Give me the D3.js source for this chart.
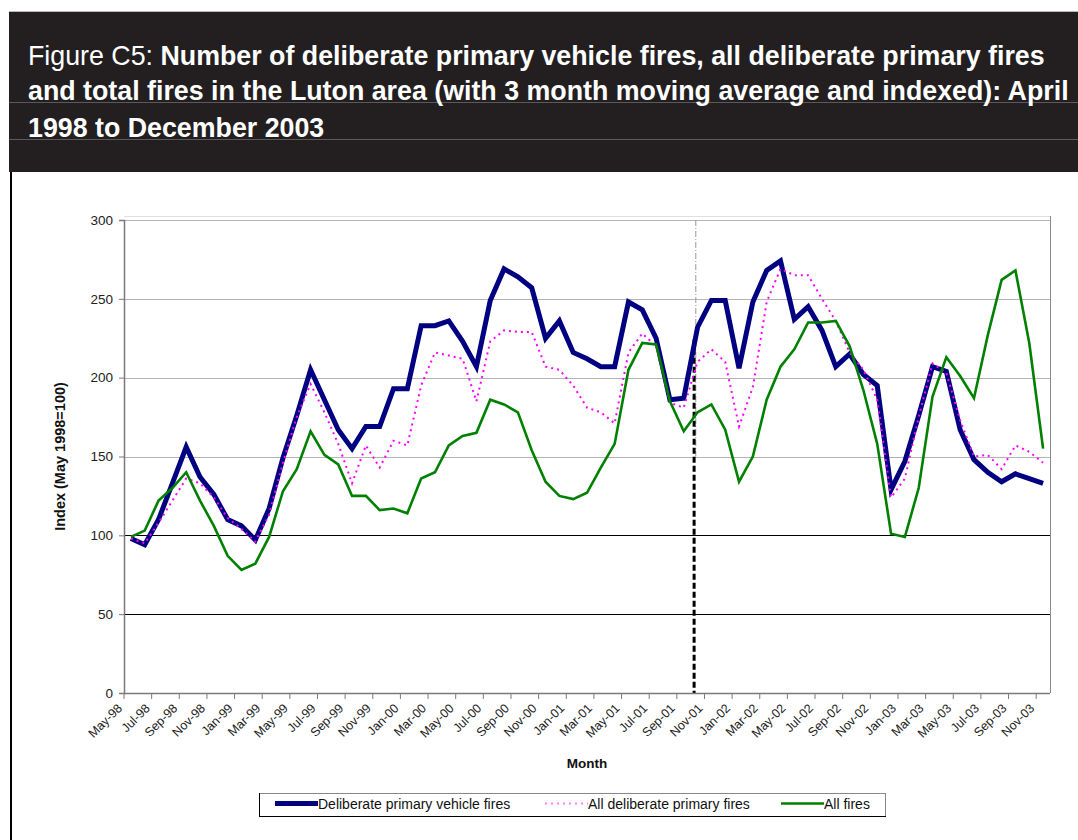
<!DOCTYPE html>
<html>
<head>
<meta charset="utf-8">
<script src="https://cdn.jsdelivr.net/npm/d3@7"></script>
<style>
  html, body { margin: 0; padding: 0; background: #fff; }
  svg { display: block; font-family: "Liberation Sans", Arial, Helvetica, sans-serif; }
</style>
</head>
<body>
<svg id="chart" width="1078" height="840"></svg>
<script>
// ---------------- DATA ----------------
const months = [
  "May-98","Jun-98","Jul-98","Aug-98","Sep-98","Oct-98","Nov-98","Dec-98",
  "Jan-99","Feb-99","Mar-99","Apr-99","May-99","Jun-99","Jul-99","Aug-99","Sep-99","Oct-99","Nov-99","Dec-99",
  "Jan-00","Feb-00","Mar-00","Apr-00","May-00","Jun-00","Jul-00","Aug-00","Sep-00","Oct-00","Nov-00","Dec-00",
  "Jan-01","Feb-01","Mar-01","Apr-01","May-01","Jun-01","Jul-01","Aug-01","Sep-01","Oct-01","Nov-01","Dec-01",
  "Jan-02","Feb-02","Mar-02","Apr-02","May-02","Jun-02","Jul-02","Aug-02","Sep-02","Oct-02","Nov-02","Dec-02",
  "Jan-03","Feb-03","Mar-03","Apr-03","May-03","Jun-03","Jul-03","Aug-03","Sep-03","Oct-03","Nov-03"
];

const vehicleFires = [
  98, 94, 110, 133, 156, 137, 126, 110,
  106, 97, 117, 149, 176, 205, 186, 167, 155, 169, 169, 193,
  193, 233, 233, 236, 223, 207, 249, 269, 264, 257, 225, 236,
  216, 212, 207, 207, 248, 243, 225, 186, 187, 232, 249, 249,
  206, 248, 268, 274, 237, 245, 230, 207, 215, 202, 195, 129,
  147, 176, 207, 204, 167, 148, 140, 134, 139, 136, 133
];

const deliberateFires = [
  98, 95, 108, 122, 136, 133, 124, 111,
  104, 96, 113, 146, 175, 196, 178, 158, 133, 157, 143, 160,
  157, 195, 216, 214, 212, 185, 223, 230, 229, 229, 207, 205,
  195, 181, 178, 171, 216, 228, 220, 184, 181, 210, 218, 210,
  169, 194, 248, 269, 265, 265, 250, 236, 216, 205, 186, 124,
  136, 175, 209, 203, 173, 150, 151, 142, 157, 153, 146
];

const allFires = [
  99, 103, 122, 130, 140, 122, 106, 87,
  78, 82, 99, 128, 142, 166, 151, 145, 125, 125, 116, 117,
  114, 136, 140, 157, 163, 165, 186, 183, 178, 154, 134, 125,
  123, 127, 143, 158, 205, 222, 221, 185, 166, 178, 183, 167,
  134, 150, 186, 207, 218, 235, 235, 236, 220, 192, 158, 101,
  99, 130, 188, 213, 201, 187, 227, 262, 268, 222, 155
];

const seriesNames = ["Deliberate primary vehicle fires", "All deliberate primary fires", "All fires"];
const yTicks = [0, 50, 100, 150, 200, 250, 300];
const blackGridValues = [50, 100];
const markerMonth = "Oct-01";
const titleLines = [
  [{t: "Figure C5: ", b: false}, {t: "Number of deliberate primary vehicle fires, all deliberate primary fires", b: true}],
  [{t: "and total fires in the Luton area (with 3 month moving average and indexed): April", b: true}],
  [{t: "1998 to December 2003", b: true}]
];
const yTitle = "Index (May 1998=100)";
const xTitle = "Month";

// ---------------- LAYOUT ----------------
const svg = d3.select("#chart");
const W = 1078, H = 840;
const plot = {left: 124, right: 1050, top: 220, bottom: 693};

// Title block
svg.append("rect").attr("x", 9).attr("y", 12).attr("width", W - 9).attr("height", 160).attr("fill", "#231f20");
svg.append("line").attr("x1", 9).attr("x2", W).attr("y1", 11.5).attr("y2", 11.5).attr("stroke", "#bbb");
[102.5, 139.5].forEach(yy => {
  svg.append("line").attr("x1", 9).attr("x2", W).attr("y1", yy).attr("y2", yy).attr("stroke", "#5a5a5a").attr("stroke-width", 1);
});
const titleBaselines = [65, 100, 137];
const titleG = svg.append("g");
const tLines = titleLines.map((parts, li) => {
  const t = titleG.append("text").attr("x", 28).attr("y", titleBaselines[li]).attr("fill", "#fff").attr("font-size", 21);
  parts.forEach(p => t.append("tspan").attr("font-weight", p.b ? "bold" : "normal").text(p.t));
  return t;
});
// fit font size so that first line spans the measured width
const w1 = tLines[0].node().getComputedTextLength();
const fs = 21 * (1017 / w1);
tLines.forEach(t => t.attr("font-size", fs));

// left border of frame
svg.append("line").attr("x1", 11).attr("x2", 11).attr("y1", 172).attr("y2", H).attr("stroke", "#000").attr("stroke-width", 2);

// Scales
const x = d3.scaleBand().domain(months).range([plot.left, plot.right]).padding(0);
const cx = m => x(m) + x.bandwidth() / 2;
const y = d3.scaleLinear().domain([0, 300]).range([plot.bottom, plot.top]);

// Gridlines
const grid = svg.append("g");
grid.append("line").attr("x1", plot.left).attr("x2", plot.right).attr("y1", y(300) - 3.5).attr("y2", y(300) - 3.5).attr("stroke", "#e0e0e0");
yTicks.filter(v => v > 0).forEach(v => {
  grid.append("line")
    .attr("x1", plot.left).attr("x2", plot.right)
    .attr("y1", Math.round(y(v)) + 0.5).attr("y2", Math.round(y(v)) + 0.5)
    .attr("stroke", blackGridValues.includes(v) ? "#000" : "#b4b4b4")
    .attr("stroke-width", 1);
});
// right border
grid.append("line").attr("x1", plot.right + 0.5).attr("x2", plot.right + 0.5).attr("y1", y(300) - 4).attr("y2", plot.bottom).attr("stroke", "#8a8a8a");

// Marker lines (vertical, dashed)
const markerX = x(markerMonth) + x.bandwidth() * 0.25;
svg.append("line").attr("x1", markerX + 1.7).attr("x2", markerX + 1.7)
  .attr("y1", y(300)).attr("y2", y(150))
  .attr("stroke", "#999").attr("stroke-width", 1).attr("stroke-dasharray", "6,2,1,2");
svg.append("line").attr("x1", markerX).attr("x2", markerX)
  .attr("y1", y(224)).attr("y2", y(0))
  .attr("stroke", "#000").attr("stroke-width", 3).attr("stroke-dasharray", "6,3");

// Y axis
const yAxis = svg.append("g").attr("transform", `translate(${plot.left},0)`)
  .call(d3.axisLeft(y).tickValues(yTicks).tickSize(5).tickPadding(6).tickFormat(d3.format("d")));
yAxis.attr("font-size", null).attr("font-family", null);
yAxis.select(".domain").attr("stroke", "#7a7a7a").attr("stroke-width", 1.5);
yAxis.selectAll(".tick line").attr("stroke", "#7a7a7a");
yAxis.selectAll(".tick text").attr("font-size", 13.5).attr("fill", "#222");

// X axis
const xg = svg.append("g");
xg.append("line").attr("x1", plot.left).attr("x2", plot.right).attr("y1", plot.bottom + 0.5).attr("y2", plot.bottom + 0.5)
  .attr("stroke", "#7a7a7a").attr("stroke-width", 1.5);
const labelled = months.filter((m, i) => i % 2 === 0);
xg.selectAll("line.tk").data(labelled).enter().append("line").attr("class", "tk")
  .attr("x1", d => x(d)).attr("x2", d => x(d))
  .attr("y1", plot.bottom).attr("y2", plot.bottom + 6)
  .attr("stroke", "#7a7a7a");
xg.selectAll("text.xl").data(labelled).enter().append("text").attr("class", "xl")
  .attr("transform", d => `translate(${cx(d) - 8},${plot.bottom + 16}) rotate(-45)`)
  .attr("text-anchor", "end")
  .attr("font-size", 12.5).attr("fill", "#222")
  .text(d => d);

// Axis titles
svg.append("text")
  .attr("transform", `translate(65,${(plot.top + plot.bottom) / 2}) rotate(-90)`)
  .attr("text-anchor", "middle").attr("font-weight", "bold").attr("font-size", 14.5).attr("fill", "#111")
  .text(yTitle);
svg.append("text")
  .attr("x", (plot.left + plot.right) / 2).attr("y", 768)
  .attr("text-anchor", "middle").attr("font-weight", "bold").attr("font-size", 13.5).attr("fill", "#111")
  .text(xTitle);

// Lines
const line = d3.line().x((d, i) => cx(months[i])).y(d => y(d));
const series = [
  {name: seriesNames[0], values: vehicleFires, color: "#000080", width: 5, dash: null},
  {name: seriesNames[1], values: deliberateFires, color: "#ff00ff", width: 2, dash: "2,4"},
  {name: seriesNames[2], values: allFires, color: "#008000", width: 2.6, dash: null}
];
series.forEach(s => {
  svg.append("path").datum(s.values)
    .attr("d", line)
    .attr("fill", "none")
    .attr("stroke", s.color)
    .attr("stroke-width", s.width)
    .attr("stroke-linejoin", "miter")
    .attr("stroke-dasharray", s.dash);
});

// Legend
const lg = svg.append("g");
const box = {x: 259, y: 793, w: 626, h: 23};
lg.append("rect").attr("x", box.x + 0.5).attr("y", box.y + 0.5).attr("width", box.w).attr("height", box.h)
  .attr("fill", "#fff").attr("stroke", "#888");
lg.append("line").attr("x1", box.x + 0.5).attr("x2", box.x + 0.5).attr("y1", box.y).attr("y2", box.y + box.h + 1).attr("stroke", "#000");
lg.append("line").attr("x1", box.x).attr("x2", box.x + box.w + 1).attr("y1", box.y + box.h + 0.5).attr("y2", box.y + box.h + 0.5).attr("stroke", "#000");
const legendX = [275, 545, 781];
const ly = 803.5;
series.forEach((s, i) => {
  lg.append("line").attr("x1", legendX[i]).attr("x2", legendX[i] + 43).attr("y1", ly).attr("y2", ly)
    .attr("stroke", s.color).attr("stroke-width", s.width).attr("stroke-dasharray", s.dash)
    .attr("opacity", i === 1 ? 0.5 : 1);
  lg.append("text").attr("x", legendX[i] + 43).attr("y", ly + 5)
    .attr("font-size", 14).attr("fill", "#111").text(s.name);
});
</script>
</body>
</html>
